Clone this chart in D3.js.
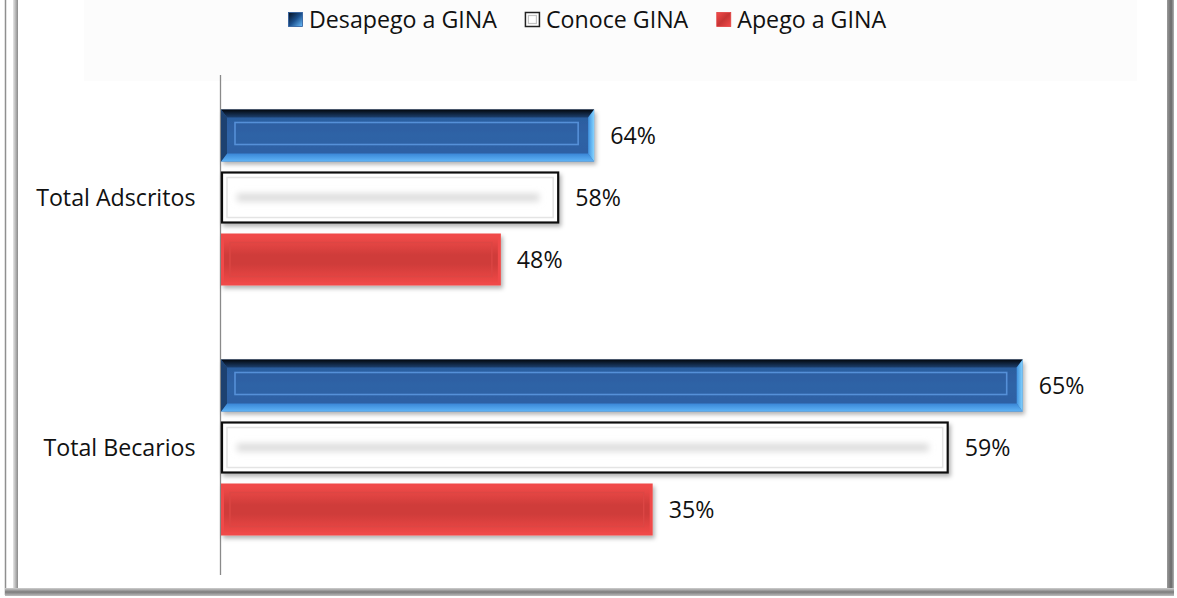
<!DOCTYPE html>
<html>
<head>
<meta charset="utf-8">
<script src="https://cdn.jsdelivr.net/npm/d3@7/dist/d3.min.js"></script>
<style>
  html, body { margin: 0; padding: 0; background: #ffffff; }
  svg { display: block; }
  text { font-family: "Open Sans", "Noto Sans", sans-serif; fill: #111; }
</style>
</head>
<body>
<svg id="chart" width="1177" height="598"></svg>
<script>
// Categories shown on the vertical axis
const categories = ["Total Adscritos", "Total Becarios"];
// Series (top to bottom inside each category)
const seriesNames = ["Desapego a GINA", "Conoce GINA", "Apego a GINA"];
const seriesKeys = ["blue", "white", "red"];
// Percentages printed next to each bar, per category
const pctAdscritos = [64, 58, 48];
const pctBecarios = [65, 59, 35];
// Estimated size of each group; bars show people = pct × group size
const groupTotals = [260, 550];

const pctByCategory = [pctAdscritos, pctBecarios];

const svg = d3.select("#chart");
const FONT = 23.2;

// ---------- defs: gradients and filters ----------
const defs = svg.append("defs");
function linGrad(id, stops, x2 = "0", y2 = "1") {
  const g = defs.append("linearGradient").attr("id", id)
    .attr("x1", "0").attr("y1", "0").attr("x2", x2).attr("y2", y2);
  stops.forEach(([o, c]) => g.append("stop").attr("offset", o).attr("stop-color", c));
}
linGrad("blueTop", [[0, "#03070d"], [1, "#1c3f6e"]]);
linGrad("blueBottom", [[0, "#3a86d6"], [1, "#5fb4f6"]]);
linGrad("blueRight", [[0, "#3f92e0"], [1, "#86d4ff"]], "1", "0");
linGrad("blueFace", [[0, "#2a5a9c"], [0.5, "#2f63a6"], [1, "#2c5fa2"]]);
linGrad("redFace", [[0, "#f04b49"], [0.4, "#cf3c3a"], [0.6, "#cf3c3a"], [1, "#ee4846"]]);
linGrad("legBlue", [[0, "#06101e"], [0.5, "#1b4f8c"], [1, "#6cc0ff"]], "1", "1");
linGrad("legRed", [[0, "#f34b4b"], [0.5, "#c63534"], [1, "#f34b4b"]], "1", "1");
linGrad("frameLeft", [[0, "#e6e6e6"], [1, "#8a8a8a"]], "1", "0");
linGrad("frameRight", [[0, "#9a9a9a"], [0.6, "#6a6a6a"], [1, "#b0b0b0"]], "1", "0");
linGrad("frameBottom", [[0, "#cfcfcf"], [0.5, "#7c7c7c"], [1, "#bdbdbd"]]);

const shadow = defs.append("filter").attr("id", "shadow")
  .attr("x", "-5%").attr("y", "-20%").attr("width", "115%").attr("height", "160%");
shadow.append("feDropShadow").attr("dx", 2).attr("dy", 3)
  .attr("stdDeviation", 2).attr("flood-color", "#000").attr("flood-opacity", 0.3);

const blur = defs.append("filter").attr("id", "blur")
  .attr("x", "-10%").attr("y", "-150%").attr("width", "120%").attr("height", "400%");
blur.append("feGaussianBlur").attr("stdDeviation", 3);

// ---------- frame and legend panel ----------
svg.append("rect").attr("x", 84).attr("y", 0).attr("width", 1053).attr("height", 81)
  .attr("fill", "#fcfcfc");
svg.append("line").attr("x1", 5.5).attr("x2", 5.5).attr("y1", 0).attr("y2", 595)
  .attr("stroke", "#8f8f8f").attr("stroke-width", 1.5);
svg.append("rect").attr("x", 13).attr("y", 0).attr("width", 5).attr("height", 589)
  .attr("fill", "url(#frameLeft)");
svg.append("rect").attr("x", 1167).attr("y", 0).attr("width", 7).attr("height", 596)
  .attr("fill", "url(#frameRight)");
svg.append("rect").attr("x", 5).attr("y", 588).attr("width", 1169).attr("height", 8)
  .attr("fill", "url(#frameBottom)");

// ---------- scales ----------
const plotTop = 74, plotBottom = 574, axisX = 221;
const y = d3.scaleBand().domain(categories).range([plotTop, plotBottom]).padding(0);
const ySeries = d3.scaleBand().domain(seriesKeys).range([-88, 88]).paddingInner(10 / 62);
const x = d3.scaleLinear().domain([0, 400]).range([axisX, 1118]);

// vertical category axis (line + labels, no ticks)
const axis = d3.axisLeft(y).tickSize(0).tickPadding(25);
const axisG = svg.append("g").attr("transform", `translate(${axisX - 0.5},0)`).call(axis);
axisG.select(".domain").attr("stroke", "#8a8a8a").attr("stroke-width", 1.3)
  .attr("d", `M0,${plotTop + 1}V${plotBottom + 1}`);
axisG.selectAll(".tick text")
  .attr("font-family", "\"Open Sans\", sans-serif")
  .attr("font-size", FONT).attr("fill", "#111");

// ---------- bars ----------
function poly(g, pts, fill) {
  g.append("polygon").attr("points", pts.map(p => p.join(",")).join(" ")).attr("fill", fill);
}

function drawBar(g, key, x0, x1, y0, y1) {
  const bar = g.append("g").attr("filter", "url(#shadow)");
  const inner = g.append("g");
  if (key === "blue") {
    const s = 6, t = 8;
    bar.append("rect").attr("x", x0).attr("y", y0).attr("width", x1 - x0).attr("height", y1 - y0)
      .attr("fill", "url(#blueFace)");
    poly(inner, [[x0, y0], [x1, y0], [x1 - s, y0 + t], [x0 + s, y0 + t]], "url(#blueTop)");
    poly(inner, [[x0, y1], [x1, y1], [x1 - s, y1 - t], [x0 + s, y1 - t]], "url(#blueBottom)");
    poly(inner, [[x0, y0], [x0 + s, y0 + t], [x0 + s, y1 - t], [x0, y1]], "#1d4170");
    poly(inner, [[x1, y0], [x1 - s, y0 + t], [x1 - s, y1 - t], [x1, y1]], "url(#blueRight)");
    inner.append("rect").attr("x", x0 + 14).attr("y", y0 + 13)
      .attr("width", x1 - x0 - 30).attr("height", y1 - y0 - 30)
      .attr("fill", "none").attr("stroke", "#5590d8").attr("stroke-width", 1.6);
  } else if (key === "white") {
    bar.append("rect").attr("x", x0 + 1).attr("y", y0 + 1)
      .attr("width", x1 - x0 - 2).attr("height", y1 - y0 - 2)
      .attr("fill", "#ffffff").attr("stroke", "#111").attr("stroke-width", 2.2);
    inner.append("rect").attr("x", x0 + 6).attr("y", y0 + 6)
      .attr("width", x1 - x0 - 12).attr("height", y1 - y0 - 12)
      .attr("fill", "none").attr("stroke", "#e4e4e4").attr("stroke-width", 1.5);
    inner.append("rect").attr("x", x0 + 16).attr("y", (y0 + y1) / 2 - 4)
      .attr("width", x1 - x0 - 36).attr("height", 8)
      .attr("fill", "#dcdcdc").attr("filter", "url(#blur)");
  } else {
    bar.append("rect").attr("x", x0).attr("y", y0).attr("width", x1 - x0).attr("height", y1 - y0)
      .attr("fill", "#f04a48");
    inner.append("rect").attr("x", x0 + 3).attr("y", y0 + 3)
      .attr("width", x1 - x0 - 6).attr("height", y1 - y0 - 6)
      .attr("fill", "url(#redFace)");
    inner.append("rect").attr("x", x0 + 9).attr("y", y0 + 9)
      .attr("width", x1 - x0 - 18).attr("height", y1 - y0 - 18)
      .attr("fill", "none").attr("stroke", "#dc4644").attr("stroke-width", 1.4);
  }
}

const barsG = svg.append("g");
categories.forEach((cat, ci) => {
  const cy = y(cat) + y.bandwidth() / 2 - 1.5;
  seriesKeys.forEach((key, si) => {
    const pct = pctByCategory[ci][si];
    const people = pct / 100 * groupTotals[ci];
    const y0 = cy + ySeries(key);
    const y1 = y0 + ySeries.bandwidth();
    const x1 = x(people);
    drawBar(barsG, key, x(0), x1, y0, y1);
    barsG.append("text")
      .attr("x", x1 + 16).attr("y", (y0 + y1) / 2)
      .attr("dy", "0.35em")
      .attr("font-size", FONT)
      .text(pct + "%");
  });
});

// ---------- legend ----------
const legend = svg.append("g");
const legFill = { blue: "url(#legBlue)", white: "#ffffff", red: "url(#legRed)" };
let lx = 288;
seriesNames.forEach((name, i) => {
  const key = seriesKeys[i];
  const item = legend.append("g").attr("transform", `translate(${lx},0)`);
  item.append("rect").attr("x", 0.5).attr("y", 12.5).attr("width", 14).attr("height", 14)
    .attr("fill", legFill[key])
    .attr("stroke", key === "white" ? "#222" : (key === "blue" ? "#2a5a9c" : "#e04040"))
    .attr("stroke-width", key === "white" ? 1.5 : 0.8);
  if (key === "white") {
    item.append("rect").attr("x", 3.5).attr("y", 15.5).attr("width", 8).attr("height", 8)
      .attr("fill", "none").attr("stroke", "#c4c4c4").attr("stroke-width", 1.2);
  }
  const tx = 21;
  const t = item.append("text").attr("x", tx).attr("y", 20)
    .attr("dy", "0.35em").attr("font-size", FONT).text(name);
  lx += tx + t.node().getComputedTextLength() + 28;
});
</script>
</body>
</html>
